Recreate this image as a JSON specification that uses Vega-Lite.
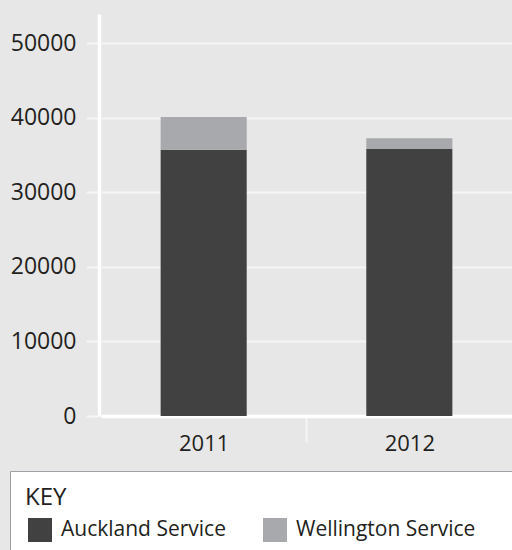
{
  "$schema": "https://vega.github.io/schema/vega-lite/v6.json",
  "autosize": {"type": "none"},
  "padding": {"left": 101, "top": 14, "right": 0, "bottom": 134},
  "width": 411,
  "height": 402,
  "background": "#e6e7e6",
  "data": {
    "values": [
      {"year": "2011", "service": "Auckland Service", "value": 35700},
      {"year": "2011", "service": "Wellington Service", "value": 4400},
      {"year": "2012", "service": "Auckland Service", "value": 35800},
      {"year": "2012", "service": "Wellington Service", "value": 1450}
    ]
  },
  "mark": {"type": "bar"},
  "encoding": {
    "x": {
      "field": "year",
      "type": "nominal",
      "scale": {"paddingInner": 0.5815, "paddingOuter": 0.29},
      "axis": {
        "title": null,
        "labelAngle": 0,
        "labelFontSize": 22,
        "labelColor": "#231f20",
        "labelPadding": -9,
        "labelOffset": 103,
        "domainColor": "white",
        "domainWidth": 3.5,
        "tickColor": "#f5f5f5",
        "tickWidth": 2,
        "tickSize": 26,
        "tickOffset": -103,
        "tickOpacity": {"condition": {"test": "datum.value === '2012'", "value": 1}, "value": 0}
      }
    },
    "y": {
      "field": "value",
      "type": "quantitative",
      "stack": "zero",
      "scale": {"domain": [0, 53900], "nice": false},
      "axis": {
        "title": null,
        "values": [0, 10000, 20000, 30000, 40000, 50000],
        "format": "d",
        "labelFontSize": 23,
        "labelColor": "#231f20",
        "labelPadding": 10,
        "offset": 2,
        "domainColor": "white",
        "domainWidth": 3.5,
        "tickColor": "#f5f5f5",
        "tickSize": 13,
        "tickWidth": 2,
        "grid": true,
        "gridColor": "#f5f5f5",
        "gridWidth": 2
      }
    },
    "order": {"field": "service", "sort": "ascending"},
    "color": {
      "field": "service",
      "type": "nominal",
      "scale": {"domain": ["Auckland Service", "Wellington Service"], "range": ["#414141", "#a8a9ac"]},
      "legend": {
        "orient": "none",
        "legendX": -91,
        "legendY": 457,
        "direction": "horizontal",
        "title": "KEY",
        "titleFontSize": 24,
        "titleFontWeight": "normal",
        "titleColor": "#231f20",
        "titlePadding": 8,
        "padding": 15,
        "fillColor": "white",
        "strokeColor": "#a0a0a6",
        "symbolType": "square",
        "symbolSize": 576,
        "symbolStrokeWidth": 0,
        "symbolOpacity": 1,
        "symbolOffset": 3,
        "labelFontSize": 21,
        "labelColor": "#231f20",
        "labelOffset": 9,
        "labelLimit": 600,
        "columnPadding": 34,
        "labelExpr": "datum.label == 'Wellington Service' ? datum.label + '\u00a0\u00a0\u00a0\u2800' : datum.label"
      }
    }
  },
  "config": {
    "font": "Open Sans",
    "view": {"stroke": null}
  }
}
